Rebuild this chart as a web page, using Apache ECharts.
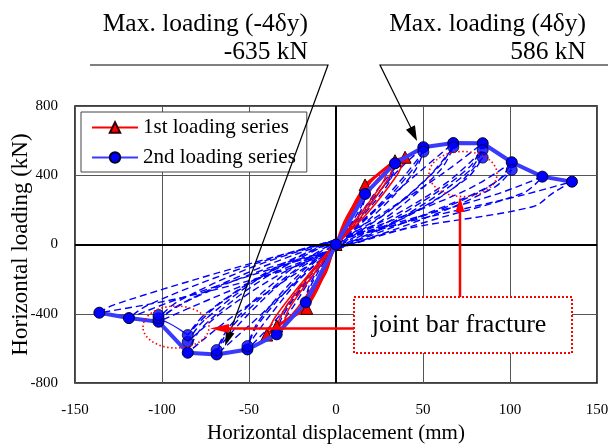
<!DOCTYPE html>
<html><head><meta charset="utf-8">
<script src="https://cdn.jsdelivr.net/npm/echarts@6/dist/echarts.min.js"></script>
<style>html,body{margin:0;padding:0;background:#fff}#c{width:608px;height:445px}</style>
</head><body><div id="c"></div>
<script>
// ---- axis ticks ----
const xTicks = [-150, -100, -50, 0, 50, 100, 150];
const yTicks = [-800, -400, 0, 400, 800];

// ---- envelopes (displacement mm, load kN) ----
const envelope2 = [[-136,-394],[-119,-425],[-102,-446],[-85.2,-625],[-68.6,-635],[-50.9,-606],[-34.1,-519],[-17.4,-334],[0,0],[16.7,292],[33.9,469],[50.2,562],[67.4,586],[84.3,585],[101,475],[118.6,392],[135.6,363]];
const envelope1 = [[-39.8,-523],[-34,-471],[-16.8,-369],[0,0],[16.7,344],[33.9,484],[39.7,504]];
// repeated-cycle peaks of 2nd loading series
const repeatPeaks2 = [[50.2,536],[67.4,562],[84.3,546],[84.3,502],[101,431],[-50.9,-587],[-68.6,-610],[-85.2,-562],[-85.2,-523],[-102,-426],[-102,-407]];
// thin connection after bar fracture
const fractureTrace = [[-85.2,-523],[-90,-490],[-96,-455],[-102,-430]];

// ---- hysteresis cycles, 2nd loading series (dashed) ----
const cycles2 = [
  [[0,5],[5,110],[11,220],[16.7,292],[15,230],[8,110],[0,-5],[-5,-120],[-11,-240],[-17.4,-330],[-15.5,-260],[-8,-120],[0,5]],
  [[0,5],[6,100],[12,200],[16.7,270],[14.5,200],[7,80],[0,-5],[-6,-110],[-12,-220],[-17.4,-305],[-15,-230],[-7,-90],[0,5]],
  [[0,10],[10,180],[22,350],[33.9,469],[31,390],[17,200],[0,-10],[-10,-190],[-22,-380],[-34.1,-519],[-31,-420],[-17,-210],[0,10]],
  [[0,10],[12,150],[24,320],[33.9,440],[30,350],[15,160],[0,-10],[-12,-160],[-24,-350],[-34.1,-490],[-30,-380],[-15,-170],[0,10]],
  [[0,15],[15,190],[35,420],[50.2,562],[46,460],[26,230],[0,-15],[-15,-200],[-35,-440],[-50.9,-606],[-46,-480],[-26,-240],[0,15]],
  [[0,15],[18,160],[38,380],[50.2,536],[45,420],[24,190],[0,-15],[-18,-170],[-38,-410],[-50.9,-587],[-45,-450],[-24,-200],[0,15]],
  [[0,20],[20,180],[48,420],[67.4,586],[61,470],[34,220],[0,-20],[-20,-190],[-48,-450],[-68.6,-635],[-62,-500],[-34,-230],[0,20]],
  [[0,20],[24,150],[52,380],[67.4,562],[60,430],[32,180],[0,-20],[-24,-160],[-52,-420],[-68.6,-610],[-61,-470],[-32,-190],[0,20]],
  [[0,25],[25,170],[60,400],[84.3,585],[77,450],[42,200],[0,-25],[-25,-180],[-60,-420],[-85.2,-625],[-77,-480],[-42,-200],[0,25]],
  [[0,25],[30,150],[64,360],[84.3,546],[76,420],[40,170],[0,-25],[-30,-160],[-64,-380],[-85.2,-562],[-76,-440],[-40,-170],[0,25]],
  [[0,25],[34,130],[68,330],[84.3,502],[75,380],[38,150],[0,-25],[-34,-140],[-68,-350],[-85.2,-523],[-75,-400],[-38,-150],[0,25]],
  [[0,25],[35,150],[78,330],[101,475],[92,360],[50,170],[0,-25],[-35,-160],[-78,-340],[-102,-446],[-92,-360],[-50,-160],[0,25]],
  [[0,25],[40,130],[82,300],[101,431],[91,330],[48,140],[0,-25],[-40,-140],[-82,-310],[-102,-426],[-91,-330],[-48,-130],[0,25]],
  [[0,27],[40,140],[92,290],[118.6,392],[108,300],[55,140],[0,-27],[-40,-150],[-92,-320],[-119,-425],[-108,-350],[-55,-140],[0,27]],
  [[0,27],[45,140],[105,280],[135.6,363],[125,300],[113,218],[37,84],[0,-30],[-30,-150],[-90,-310],[-136,-394],[-128,-350],[-70,-170],[0,27]]
];

// ---- hysteresis cycles, 1st loading series (solid) ----
const cycles1 = [
  [[0,0],[4,100],[8,180],[10,220],[9,170],[4,70],[0,0],[-4,-100],[-8,-190],[-10,-230],[-9,-170],[-4,-70],[0,0]],
  [[0,0],[5,120],[11,250],[16.7,344],[14.5,260],[7,110],[0,-10],[-5,-130],[-11,-270],[-16.8,-369],[-14.5,-280],[-7,-120],[0,10]],
  [[0,5],[6,160],[18,340],[30,450],[27,360],[12,150],[0,-5],[-6,-170],[-18,-350],[-30,-460],[-27,-370],[-12,-160],[0,5]],
  [[0,10],[8,170],[20,360],[33.9,484],[30,380],[16,180],[0,-10],[-8,-180],[-20,-360],[-34,-471],[-30,-380],[-16,-190],[0,10]],
  [[0,10],[10,180],[25,390],[39.7,504],[35,400],[18,180],[0,-10],[-10,-190],[-25,-400],[-39.8,-523],[-35,-420],[-18,-200],[0,10]]
];

const FONT = 'Liberation Serif, Times New Roman, serif';
const chart = echarts.init(document.getElementById('c'), null, {renderer: 'canvas'});

const series = [];
// zero lines
series.push({
  type: 'line', data: [], silent: true, z: 1,
  markLine: {
    silent: true, symbol: 'none', animation: false,
    label: {show: false},
    lineStyle: {color: '#000', width: 2, type: 'solid'},
    data: [{xAxis: 0}, {yAxis: 0}]
  }
});
cycles2.forEach(c => series.push({
  type: 'line', data: c, symbol: 'none', smooth: 0.35, silent: true, z: 2,
  lineStyle: {color: '#0000ff', width: 1.4, type: [7, 4]}
}));
cycles1.forEach(c => series.push({
  type: 'line', data: c, symbol: 'none', smooth: 0.35, silent: true, z: 3,
  lineStyle: {color: '#ff0000', width: 1.5}
}));
series.push({
  name: '1st loading series', type: 'line', data: envelope1, z: 5,
  symbol: 'triangle', symbolSize: 12, showAllSymbol: true,
  lineStyle: {color: '#ff0000', width: 3},
  itemStyle: {color: '#ff0000', borderColor: '#330000', borderWidth: 1}
});
series.push({
  type: 'line', data: fractureTrace, symbol: 'none', smooth: 0.4, silent: true, z: 6,
  lineStyle: {color: '#2020ff', width: 1.3}
});
series.push({
  name: '2nd loading series', type: 'line', data: envelope2, z: 6,
  symbol: 'circle', symbolSize: 11, showAllSymbol: true,
  lineStyle: {color: '#3a3aff', width: 4},
  itemStyle: {color: '#0000ff', borderColor: '#000022', borderWidth: 1}
});
series.push({
  type: 'scatter', data: repeatPeaks2, z: 6, silent: true,
  symbol: 'circle', symbolSize: 11,
  itemStyle: {color: '#0000ff', borderColor: '#000022', borderWidth: 1}
});

function arrowHead(tip, from, len, half, color) {
  const dx = tip[0] - from[0], dy = tip[1] - from[1];
  const L = Math.hypot(dx, dy), ux = dx / L, uy = dy / L;
  const bx = tip[0] - ux * len, by = tip[1] - uy * len;
  return {type: 'polygon', z: 100, silent: true,
    shape: {points: [tip, [bx - uy * half, by + ux * half], [bx + uy * half, by - ux * half]]},
    style: {fill: color}};
}
const txt = (t, x, y, size, align) => ({type: 'text', z: 100, silent: true,
  style: {text: t, x: x, y: y, fill: '#000', fontSize: size, fontFamily: FONT, align: align, verticalAlign: 'middle'}});

const graphics = [
  txt('Max. loading (-4δy)', 308, 24, 25.5, 'right'),
  txt('-635 kN', 308, 52.5, 25.5, 'right'),
  txt('Max. loading (4δy)', 586, 24, 25.5, 'right'),
  txt('586 kN', 586, 52.5, 25.5, 'right'),
  {type: 'polyline', z: 100, silent: true, shape: {points: [[90,65],[328,65],[230,332]]}, style: {stroke: '#000', lineWidth: 1.2, fill: null}},
  arrowHead([225,346], [328,65], 15, 4.5, '#000'),
  {type: 'polyline', z: 100, silent: true, shape: {points: [[608,65],[380,65],[411,128]]}, style: {stroke: '#000', lineWidth: 1.2, fill: null}},
  arrowHead([417,141], [380,65], 15, 5, '#000'),
  {type: 'ellipse', z: 100, silent: true, shape: {cx: 463, cy: 174, rx: 34, ry: 22.5}, style: {stroke: '#ff0000', lineWidth: 1.6, lineDash: [1.5, 2.5], fill: null}},
  {type: 'ellipse', z: 100, silent: true, shape: {cx: 176, cy: 327, rx: 33, ry: 21}, style: {stroke: '#ff0000', lineWidth: 1.6, lineDash: [1.5, 2.5], fill: null}},
  {type: 'line', z: 100, silent: true, shape: {x1: 460, y1: 297, x2: 460, y2: 210}, style: {stroke: '#ff0000', lineWidth: 2.5}},
  arrowHead([460,197], [460,297], 15, 4.5, '#ff0000'),
  {type: 'line', z: 100, silent: true, shape: {x1: 354, y1: 328.5, x2: 226, y2: 328.5}, style: {stroke: '#ff0000', lineWidth: 2.5}},
  arrowHead([210,328.5], [354,328.5], 19, 4.5, '#ff0000'),
  {type: 'rect', z: 100, silent: true, shape: {x: 354, y: 297, width: 218, height: 56}, style: {fill: '#fff', stroke: '#ff0000', lineWidth: 2, lineDash: [2, 2]}},
  txt('joint bar fracture', 459, 325, 26, 'center')
];

chart.setOption({
  animation: false,
  backgroundColor: '#fff',
  grid: {left: 75, right: 11, top: 106, bottom: 62, show: true, borderColor: '#000', borderWidth: 1.5,
         containLabel: false, outerBoundsMode: 'none'},
  xAxis: {
    type: 'value', min: xTicks[0], max: xTicks[xTicks.length - 1], interval: 50,
    name: 'Horizontal displacement (mm)', nameLocation: 'middle', nameGap: 40,
    nameTextStyle: {fontFamily: FONT, fontSize: 21, color: '#000'},
    axisLine: {show: false}, axisTick: {show: false},
    axisLabel: {fontFamily: FONT, fontSize: 15, color: '#000', margin: 20},
    splitLine: {show: true, lineStyle: {color: '#555', width: 1}}
  },
  yAxis: {
    type: 'value', min: yTicks[0], max: yTicks[yTicks.length - 1], interval: 400,
    name: 'Horizontal loading (kN)', nameLocation: 'middle', nameGap: 43, nameMoveOverlap: false,
    nameTextStyle: {fontFamily: FONT, fontSize: 23, color: '#000'},
    axisLine: {show: false}, axisTick: {show: false},
    axisLabel: {fontFamily: FONT, fontSize: 15, color: '#000', margin: 17},
    splitLine: {show: true, lineStyle: {color: '#555', width: 1}}
  },
  legend: {
    data: ['1st loading series', '2nd loading series'],
    orient: 'vertical', left: 81, top: 112,
    itemWidth: 46, itemHeight: 13, itemGap: 9,
    padding: [5, 11, 4, 10],
    backgroundColor: '#fff', borderColor: '#444', borderWidth: 1,
    textStyle: {fontFamily: FONT, fontSize: 21, color: '#000', lineHeight: 21},
    z: 10
  },
  series: series,
  graphic: graphics
});
</script>
</body></html>
